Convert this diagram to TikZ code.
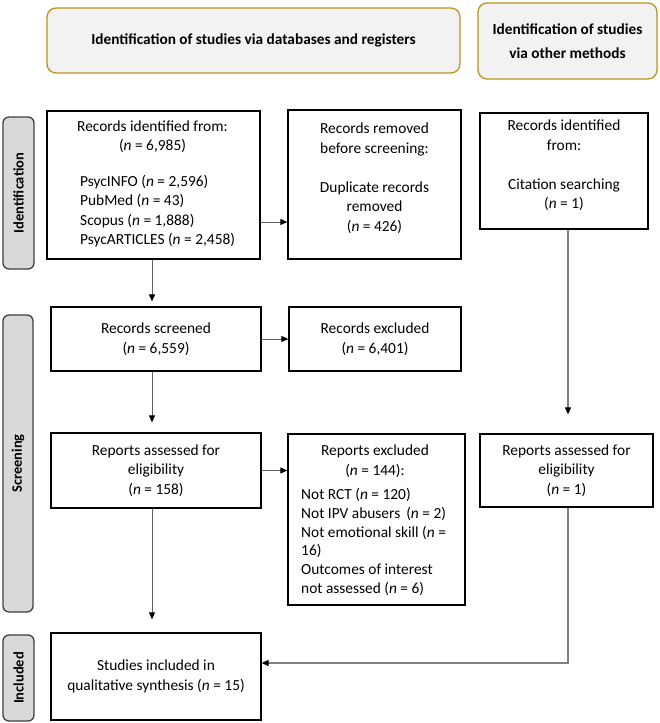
\documentclass[tikz,border=0pt]{standalone}
\usepackage{fontspec}
\setmainfont{Carlito}
\usetikzlibrary{arrows.meta}
\definecolor{hdrborder}{HTML}{C09020}
\definecolor{hdrfill}{HTML}{F2F2F2}
\definecolor{sidefill}{HTML}{D9D9D9}
\definecolor{sideborder}{HTML}{404040}
\definecolor{linegray}{HTML}{606060}
\definecolor{lightline}{HTML}{808080}
\begin{document}
\begin{tikzpicture}[x=1pt,y=-1pt,
  txt/.style={font={\fontsize{15.4}{19.5}\selectfont}, inner sep=0pt, text=black},
  box/.style={draw=black, line width=1.3pt, fill=white, inner sep=0pt, align=center, font={\fontsize{15.4}{19.5}\selectfont}},
  hdr/.style={draw=hdrborder, fill=hdrfill, line width=1.3pt, rounded corners=9pt, inner sep=0pt, align=center, font={\fontsize{15.3}{24.5}\selectfont\bfseries}},
  side/.style={draw=sideborder, fill=sidefill, line width=1.3pt, rounded corners=6pt, inner sep=0pt, rotate=90, font={\fontsize{14.5}{17}\selectfont\bfseries}},
  arr/.style={draw=linegray, line width=0.8pt, -{Triangle[length=7pt,width=6pt,color=black]}},
  arrR/.style={draw=lightline, line width=1.1pt, -{Triangle[length=7pt,width=6pt,color=black]}}
]
\useasboundingbox (0,0) rectangle (660,723);

% headers
\node[hdr, minimum width=413, minimum height=65] (h1) at (253.5,40.5) {Identification of studies via databases and registers};
\node[hdr, minimum width=179, minimum height=76] (h2) at (567.5,41) {Identification of studies\\via other methods};

% side labels
\node[side, minimum width=152, minimum height=31] (sid) at (18.5,193) {Identification};
\node[side, minimum width=297, minimum height=30] (sscr) at (18,463.5) {Screening};
\node[side, minimum width=86, minimum height=31] (sinc) at (18.5,678) {Included};

% boxes
\node[box, minimum width=213, minimum height=148] (rid) at (153.5,185) {};
\node[txt, align=center] (ridT) at (152.5,136.5) {Records identified from:\\(\textit{n} = 6,985)};
\node[txt, align=left, anchor=west] (ridL) at (80,211) {PsycINFO (\textit{n} = 2,596)\\PubMed (\textit{n} = 43)\\Scopus (\textit{n} = 1,888)\\PsycARTICLES (\textit{n} = 2,458)};

\node[box, minimum width=173, minimum height=149] (rrem) at (374.5,184.5) {};
\node[txt, align=center] (rremT) at (374.5,178) {Records removed\\before screening:\\[19.5pt]Duplicate records\\removed\\(\textit{n} = 426)};

\node[box, minimum width=168, minimum height=116] (roth) at (564,171) {};
\node[txt, align=center] (rothT) at (564,165.5) {Records identified\\from:\\[19.5pt]Citation searching\\(\textit{n} = 1)};

\node[box, minimum width=210, minimum height=64] (rscr) at (156,339) {Records screened\\(\textit{n} = 6,559)};
\node[box, minimum width=172, minimum height=64] (rexc) at (375,339) {Records excluded\\(\textit{n} = 6,401)};

\node[box, minimum width=210, minimum height=75] (rass) at (156,470.5) {Reports assessed for\\eligibility\\(\textit{n} = 158)};

\node[box, minimum width=177, minimum height=171] (repx) at (376.5,519.5) {};
\node[txt, align=center] (repxT) at (375,461) {Reports excluded\\(\textit{n} = 144):};
\node[txt, align=left, anchor=west, font={\fontsize{15.4}{18.8}\selectfont}] (repxL) at (301,542) {Not RCT (\textit{n} = 120)\\Not IPV abusers\, (\textit{n} = 2)\\Not emotional skill (\textit{n} =\\16)\\Outcomes of interest\\not assessed (\textit{n} = 6)};

\node[box, minimum width=173, minimum height=73] (oass) at (566.5,470.5) {Reports assessed for\\eligibility\\(\textit{n} = 1)};

\node[box, minimum width=210, minimum height=87] (inc) at (156,676.5) {Studies included in\\qualitative synthesis (\textit{n} = 15)};

% helper coordinates
\coordinate (xl) at (152,0);
\coordinate (xr) at (568,0);
\coordinate (y1) at (0,222);
\coordinate (yinc) at (0,663);

% connectors
\draw[arr] (rid.east |- y1) -- (rrem.west |- y1);
\draw[arr] (rscr.east) -- (rexc.west);
\draw[arr] (rass.east) -- (rass.east -| repx.west);
\draw[arr, shorten >=5pt] (rid.south -| xl) -- (rscr.north -| xl);
\draw[arr, shorten >=10pt] (rscr.south -| xl) -- (rass.north -| xl);
\draw[arr, shorten >=13pt] (rass.south -| xl) -- (inc.north -| xl);
\draw[arrR, shorten >=19pt] (roth.south -| xr) -- (oass.north -| xr);
\draw[arrR] (oass.south -| xr) -- (xr |- yinc) -- (inc.east |- yinc);
\end{tikzpicture}
\end{document}
